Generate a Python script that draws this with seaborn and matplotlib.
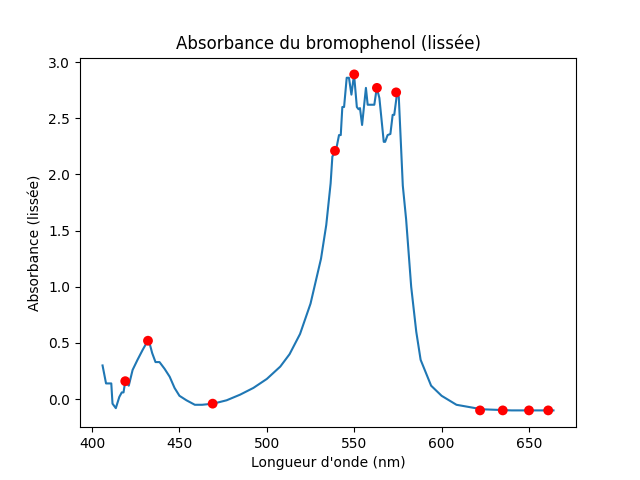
import pandas as pd
import matplotlib
matplotlib.use("Agg")
import matplotlib.pyplot as plt
import seaborn as sns

# smoothed absorbance curve
wavelength = [406, 408, 411, 411.7, 413.6, 415.6, 417, 418, 419, 421, 423.2, 426, 429,
              431.9, 433.2, 434.4, 436.3, 438.6, 441.5, 444.4, 447.2, 450, 454, 458.8,
              463, 469.3, 477, 484.7, 492.3, 500, 507.7, 513, 519, 525, 531, 534,
              536.5, 537.5, 539.4, 541.3, 542.3, 543.2, 544.2, 545.7, 547, 548.4,
              549.9, 551.5, 552.5, 553.3, 554.5, 556.7, 557.7, 561.5, 562.9, 564.4,
              566.9, 567.7, 569.1, 570.7, 572, 572.9, 574.5, 575.5, 577.8, 579.7,
              582.6, 585.5, 588, 594, 600, 608.5, 623, 640, 664]
absorbance = [0.30, 0.14, 0.14, -0.04, -0.08, 0.02, 0.06, 0.06, 0.16, 0.12, 0.26, 0.35,
              0.44, 0.52, 0.48, 0.41, 0.33, 0.33, 0.27, 0.20, 0.10, 0.03, -0.01, -0.05,
              -0.05, -0.04, -0.01, 0.04, 0.10, 0.18, 0.29, 0.40, 0.58, 0.85, 1.25, 1.55,
              1.92, 2.16, 2.20, 2.35, 2.35, 2.60, 2.60, 2.86, 2.86, 2.71, 2.89, 2.60,
              2.58, 2.59, 2.44, 2.77, 2.62, 2.62, 2.77, 2.68, 2.29, 2.29, 2.35, 2.36,
              2.53, 2.53, 2.72, 2.69, 1.90, 1.60, 1.00, 0.60, 0.35, 0.12, 0.03, -0.05,
              -0.09, -0.10, -0.10]

# highlighted points
peak_wavelength = [419, 432, 469, 539, 550, 563, 574, 622, 635, 650, 661]
peak_absorbance = [0.16, 0.52, -0.04, 2.21, 2.89, 2.77, 2.73, -0.10, -0.10, -0.10, -0.10]

curve = pd.DataFrame({"wavelength": wavelength, "absorbance": absorbance})
peaks = pd.DataFrame({"wavelength": peak_wavelength, "absorbance": peak_absorbance})

fig, ax = plt.subplots(figsize=(6.4, 4.8), dpi=100)
sns.lineplot(data=curve, x="wavelength", y="absorbance", color="#1f77b4", ax=ax)
sns.scatterplot(data=peaks, x="wavelength", y="absorbance", color="red",
                s=50, edgecolor="none", zorder=3, ax=ax)

ax.set_title("Absorbance du bromophenol (lissée)")
ax.set_xlabel("Longueur d'onde (nm)")
ax.set_ylabel("Absorbance (lissée)")

plt.savefig("out.png")
